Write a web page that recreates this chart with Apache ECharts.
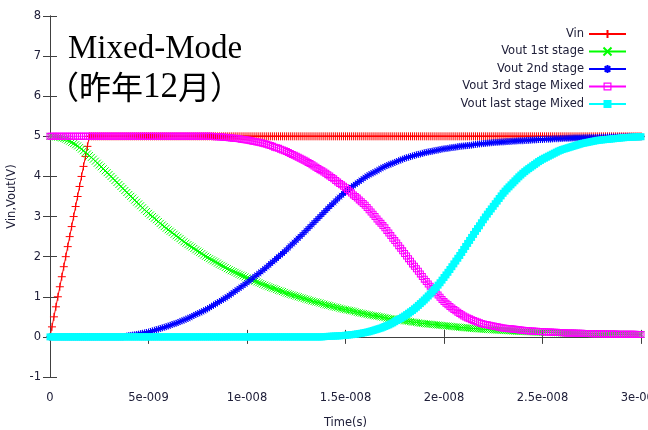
<!DOCTYPE html>
<html>
<head>
<meta charset="utf-8">
<script src="https://cdn.jsdelivr.net/npm/echarts@6/dist/echarts.min.js"></script>
<style>
  html, body { margin: 0; padding: 0; background: #fff; }
  #chart { width: 648px; height: 430px; }
</style>
</head>
<body>
<div id="chart"></div>
<script>
// Transient response of a four-stage chain, sampled every 0.1 ns (voltages in V)
const STEP_NS = 0.1;
const xTickLabels = ['0', '5e-009', '1e-008', '1.5e-008', '2e-008', '2.5e-008', '3e-008'];
const yTickLabels = ['-1', '0', '1', '2', '3', '4', '5', '6', '7', '8'];
const seriesNames = ['Vin', 'Vout 1st stage', 'Vout 2nd stage', 'Vout 3rd stage Mixed', 'Vout last stage Mixed'];

const vin = [
  0, 0.25, 0.5, 0.75, 1, 1.25, 1.5, 1.75, 2, 2.25,
  2.5, 2.75, 3, 3.25, 3.5, 3.75, 4, 4.25, 4.5, 4.75,
  5, 5, 5, 5, 5, 5, 5, 5, 5, 5, 5, 5, 5, 5, 5, 5, 5, 5, 5, 5,
  5, 5, 5, 5, 5, 5, 5, 5, 5, 5, 5, 5, 5, 5, 5, 5, 5, 5, 5, 5,
  5, 5, 5, 5, 5, 5, 5, 5, 5, 5, 5, 5, 5, 5, 5, 5, 5, 5, 5, 5,
  5, 5, 5, 5, 5, 5, 5, 5, 5, 5, 5, 5, 5, 5, 5, 5, 5, 5, 5, 5,
  5, 5, 5, 5, 5, 5, 5, 5, 5, 5, 5, 5, 5, 5, 5, 5, 5, 5, 5, 5,
  5, 5, 5, 5, 5, 5, 5, 5, 5, 5, 5, 5, 5, 5, 5, 5, 5, 5, 5, 5,
  5, 5, 5, 5, 5, 5, 5, 5, 5, 5, 5, 5, 5, 5, 5, 5, 5, 5, 5, 5,
  5, 5, 5, 5, 5, 5, 5, 5, 5, 5, 5, 5, 5, 5, 5, 5, 5, 5, 5, 5,
  5, 5, 5, 5, 5, 5, 5, 5, 5, 5, 5, 5, 5, 5, 5, 5, 5, 5, 5, 5,
  5, 5, 5, 5, 5, 5, 5, 5, 5, 5, 5, 5, 5, 5, 5, 5, 5, 5, 5, 5,
  5, 5, 5, 5, 5, 5, 5, 5, 5, 5, 5, 5, 5, 5, 5, 5, 5, 5, 5, 5,
  5, 5, 5, 5, 5, 5, 5, 5, 5, 5, 5, 5, 5, 5, 5, 5, 5, 5, 5, 5,
  5, 5, 5, 5, 5, 5, 5, 5, 5, 5, 5, 5, 5, 5, 5, 5, 5, 5, 5, 5,
  5, 5, 5, 5, 5, 5, 5, 5, 5, 5, 5, 5, 5, 5, 5, 5, 5, 5, 5, 5,
  5
];

const vout1 = [
  5.00, 5.00, 4.99, 4.985, 4.98, 4.97, 4.96, 4.945, 4.93, 4.905,
  4.88, 4.85, 4.82, 4.79, 4.76, 4.72, 4.68, 4.64, 4.60, 4.56,
  4.52, 4.475, 4.43, 4.38, 4.33, 4.285, 4.24, 4.19, 4.14, 4.095,
  4.05, 4.00, 3.95, 3.90, 3.85, 3.80, 3.75, 3.70, 3.65, 3.60,
  3.55, 3.505, 3.46, 3.41, 3.36, 3.315, 3.27, 3.22, 3.17, 3.125,
  3.08, 3.04, 3.00, 2.96, 2.92, 2.875, 2.83, 2.79, 2.75, 2.71,
  2.67, 2.635, 2.60, 2.56, 2.52, 2.485, 2.45, 2.41, 2.37, 2.335,
  2.30, 2.27, 2.24, 2.205, 2.17, 2.14, 2.11, 2.075, 2.04, 2.01,
  1.98, 1.95, 1.92, 1.895, 1.87, 1.84, 1.81, 1.785, 1.76, 1.73,
  1.70, 1.675, 1.65, 1.63, 1.61, 1.585, 1.56, 1.54, 1.52, 1.495,
  1.47, 1.45, 1.43, 1.41, 1.39, 1.37, 1.35, 1.33, 1.31, 1.29,
  1.27, 1.25, 1.23, 1.215, 1.20, 1.18, 1.16, 1.145, 1.13, 1.11,
  1.09, 1.075, 1.06, 1.045, 1.03, 1.015, 1.00, 0.985, 0.97, 0.955,
  0.94, 0.925, 0.91, 0.895, 0.88, 0.87, 0.86, 0.845, 0.83, 0.815,
  0.80, 0.79, 0.78, 0.765, 0.75, 0.74, 0.73, 0.715, 0.70, 0.69,
  0.68, 0.67, 0.66, 0.65, 0.64, 0.625, 0.61, 0.60, 0.59, 0.58,
  0.57, 0.56, 0.55, 0.54, 0.53, 0.525, 0.52, 0.51, 0.50, 0.49,
  0.48, 0.47, 0.46, 0.455, 0.45, 0.44, 0.43, 0.425, 0.42, 0.41,
  0.40, 0.395, 0.39, 0.38, 0.37, 0.365, 0.36, 0.35, 0.34, 0.335,
  0.33, 0.325, 0.32, 0.315, 0.31, 0.305, 0.30, 0.295, 0.29, 0.285,
  0.28, 0.275, 0.27, 0.265, 0.26, 0.255, 0.25, 0.245, 0.24, 0.235,
  0.23, 0.226, 0.222, 0.218, 0.214, 0.21, 0.206, 0.202, 0.198, 0.194,
  0.19, 0.187, 0.184, 0.181, 0.178, 0.175, 0.172, 0.169, 0.166, 0.163,
  0.16, 0.157, 0.155, 0.152, 0.15, 0.147, 0.145, 0.142, 0.14, 0.137,
  0.135, 0.133, 0.13, 0.128, 0.126, 0.124, 0.122, 0.12, 0.118, 0.117,
  0.115, 0.114, 0.112, 0.111, 0.109, 0.108, 0.106, 0.105, 0.103, 0.102,
  0.10, 0.099, 0.097, 0.096, 0.094, 0.093, 0.091, 0.09, 0.088, 0.087,
  0.085, 0.084, 0.083, 0.082, 0.081, 0.08, 0.079, 0.078, 0.077, 0.076,
  0.075, 0.074, 0.073, 0.072, 0.071, 0.07, 0.069, 0.068, 0.067, 0.066,
  0.065, 0.065, 0.064, 0.064, 0.063, 0.063, 0.062, 0.062, 0.061, 0.061,
  0.06
];

const vout2 = [
  0, 0, 0, 0, 0, 0, 0, 0, 0, 0,
  0, 0, 0, 0, 0, 0, 0, 0, 0, 0,
  0, 0, 0, 0, 0, 0, 0, 0, 0, 0,
  0, 0, 0, 0, 0, 0, 0, 0, 0.01, 0.02,
  0.03, 0.037, 0.045, 0.052, 0.06, 0.07, 0.08, 0.09, 0.10, 0.11,
  0.12, 0.135, 0.15, 0.165, 0.18, 0.195, 0.21, 0.225, 0.24, 0.255,
  0.27, 0.29, 0.31, 0.325, 0.34, 0.36, 0.38, 0.40, 0.42, 0.44,
  0.46, 0.485, 0.51, 0.535, 0.56, 0.58, 0.60, 0.625, 0.65, 0.675,
  0.70, 0.73, 0.76, 0.79, 0.82, 0.85, 0.88, 0.91, 0.94, 0.97,
  1.00, 1.035, 1.07, 1.105, 1.14, 1.175, 1.21, 1.245, 1.28, 1.315,
  1.35, 1.39, 1.43, 1.47, 1.51, 1.545, 1.58, 1.62, 1.66, 1.70,
  1.74, 1.785, 1.83, 1.87, 1.91, 1.955, 2.00, 2.04, 2.08, 2.125,
  2.17, 2.22, 2.27, 2.315, 2.36, 2.41, 2.46, 2.505, 2.55, 2.60,
  2.65, 2.70, 2.75, 2.80, 2.85, 2.90, 2.95, 3.00, 3.05, 3.10,
  3.15, 3.20, 3.25, 3.295, 3.34, 3.39, 3.44, 3.485, 3.53, 3.575,
  3.62, 3.66, 3.70, 3.735, 3.77, 3.805, 3.84, 3.875, 3.91, 3.945,
  3.98, 4.01, 4.04, 4.065, 4.09, 4.115, 4.14, 4.17, 4.20, 4.225,
  4.25, 4.27, 4.29, 4.31, 4.33, 4.35, 4.37, 4.39, 4.41, 4.43,
  4.45, 4.465, 4.48, 4.495, 4.51, 4.525, 4.54, 4.55, 4.56, 4.575,
  4.59, 4.60, 4.61, 4.62, 4.63, 4.64, 4.65, 4.66, 4.67, 4.68,
  4.69, 4.695, 4.70, 4.71, 4.72, 4.725, 4.73, 4.74, 4.75, 4.755,
  4.76, 4.765, 4.77, 4.775, 4.78, 4.79, 4.80, 4.805, 4.81, 4.815,
  4.82, 4.825, 4.83, 4.835, 4.84, 4.845, 4.85, 4.85, 4.855, 4.86,
  4.86, 4.865, 4.87, 4.87, 4.875, 4.88, 4.88, 4.885, 4.89, 4.89,
  4.89, 4.895, 4.90, 4.90, 4.905, 4.91, 4.91, 4.915, 4.92, 4.92,
  4.92, 4.925, 4.93, 4.93, 4.93, 4.935, 4.94, 4.94, 4.94, 4.945,
  4.945, 4.95, 4.95, 4.95, 4.955, 4.955, 4.96, 4.96, 4.96, 4.96,
  4.96, 4.965, 4.965, 4.965, 4.97, 4.97, 4.97, 4.97, 4.97, 4.975,
  4.975, 4.975, 4.975, 4.98, 4.98, 4.98, 4.98, 4.98, 4.98, 4.985,
  4.985, 4.985, 4.985, 4.985, 4.99, 4.99, 4.99, 4.99, 4.99, 4.99,
  4.99
];

const vout3 = [
  5, 5, 5, 5, 5, 5, 5, 5, 5, 5, 5, 5, 5, 5, 5, 5, 5, 5, 5, 5,
  5, 5, 5, 5, 5, 5, 5, 5, 5, 5, 5, 5, 5, 5, 5, 5, 5, 5, 5, 5,
  5, 5, 5, 5, 5, 5, 5, 5, 5, 5, 5, 5, 5, 5, 5, 5, 5, 5, 5, 5,
  5, 5, 5, 5, 5, 5, 5, 5, 5, 5, 5, 5, 5, 5, 5, 5, 5, 5, 5, 5,
  5, 5, 5, 4.995, 4.99, 4.99, 4.99, 4.985, 4.98, 4.975,
  4.97, 4.965, 4.96, 4.955, 4.95, 4.945, 4.94, 4.93, 4.92, 4.915,
  4.91, 4.90, 4.89, 4.88, 4.87, 4.86, 4.85, 4.84, 4.83, 4.815,
  4.80, 4.785, 4.77, 4.75, 4.73, 4.715, 4.70, 4.68, 4.66, 4.64,
  4.62, 4.595, 4.57, 4.55, 4.53, 4.505, 4.48, 4.455, 4.43, 4.405,
  4.38, 4.35, 4.32, 4.29, 4.26, 4.23, 4.20, 4.17, 4.14, 4.11,
  4.08, 4.045, 4.01, 3.975, 3.94, 3.90, 3.86, 3.825, 3.79, 3.755,
  3.72, 3.675, 3.63, 3.585, 3.54, 3.50, 3.46, 3.415, 3.37, 3.325,
  3.28, 3.225, 3.17, 3.115, 3.06, 3.00, 2.94, 2.885, 2.83, 2.775,
  2.72, 2.655, 2.59, 2.525, 2.46, 2.40, 2.34, 2.275, 2.21, 2.145,
  2.08, 2.015, 1.95, 1.885, 1.82, 1.76, 1.70, 1.635, 1.57, 1.505,
  1.44, 1.38, 1.32, 1.265, 1.21, 1.155, 1.10, 1.045, 0.99, 0.935,
  0.88, 0.84, 0.80, 0.76, 0.72, 0.685, 0.65, 0.615, 0.58, 0.55,
  0.52, 0.495, 0.47, 0.45, 0.43, 0.41, 0.39, 0.37, 0.35, 0.335,
  0.32, 0.31, 0.30, 0.29, 0.28, 0.27, 0.26, 0.25, 0.24, 0.23,
  0.22, 0.215, 0.21, 0.205, 0.20, 0.195, 0.19, 0.182, 0.175, 0.17,
  0.165, 0.16, 0.155, 0.152, 0.148, 0.145, 0.141, 0.138, 0.134, 0.132,
  0.13, 0.128, 0.125, 0.123, 0.12, 0.118, 0.115, 0.113, 0.11, 0.108,
  0.105, 0.103, 0.10, 0.099, 0.097, 0.096, 0.094, 0.093, 0.091, 0.09,
  0.088, 0.087, 0.085, 0.084, 0.082, 0.081, 0.08, 0.079, 0.078, 0.077,
  0.076, 0.075, 0.074, 0.073, 0.072, 0.071, 0.07, 0.069, 0.068, 0.067,
  0.066, 0.066, 0.065, 0.065, 0.064, 0.064, 0.063, 0.063, 0.062, 0.061,
  0.06
];

const vout4 = [
  0, 0, 0, 0, 0, 0, 0, 0, 0, 0, 0, 0, 0, 0, 0, 0, 0, 0, 0, 0,
  0, 0, 0, 0, 0, 0, 0, 0, 0, 0, 0, 0, 0, 0, 0, 0, 0, 0, 0, 0,
  0, 0, 0, 0, 0, 0, 0, 0, 0, 0, 0, 0, 0, 0, 0, 0, 0, 0, 0, 0,
  0, 0, 0, 0, 0, 0, 0, 0, 0, 0, 0, 0, 0, 0, 0, 0, 0, 0, 0, 0,
  0, 0, 0, 0, 0, 0, 0, 0, 0, 0, 0, 0, 0, 0, 0, 0, 0, 0, 0, 0,
  0, 0, 0, 0, 0, 0, 0, 0, 0, 0, 0, 0, 0, 0, 0, 0, 0, 0, 0, 0,
  0, 0, 0, 0, 0, 0, 0, 0, 0, 0,
  0, 0, 0, 0, 0, 0, 0, 0, 0, 0.005,
  0.01, 0.012, 0.015, 0.017, 0.02, 0.022, 0.025, 0.027, 0.03, 0.035,
  0.04, 0.045, 0.05, 0.055, 0.06, 0.067, 0.075, 0.082, 0.09, 0.10,
  0.11, 0.12, 0.13, 0.145, 0.16, 0.175, 0.19, 0.205, 0.22, 0.24,
  0.26, 0.28, 0.30, 0.325, 0.35, 0.38, 0.41, 0.435, 0.46, 0.49,
  0.52, 0.555, 0.59, 0.625, 0.66, 0.70, 0.74, 0.785, 0.83, 0.875,
  0.92, 0.97, 1.02, 1.07, 1.12, 1.175, 1.23, 1.29, 1.35, 1.415,
  1.48, 1.545, 1.61, 1.68, 1.75, 1.82, 1.89, 1.96, 2.03, 2.105,
  2.18, 2.255, 2.33, 2.405, 2.48, 2.555, 2.63, 2.70, 2.77, 2.845,
  2.92, 2.99, 3.06, 3.125, 3.19, 3.255, 3.32, 3.385, 3.45, 3.515,
  3.58, 3.635, 3.69, 3.74, 3.79, 3.84, 3.89, 3.94, 3.99, 4.035,
  4.08, 4.12, 4.16, 4.195, 4.23, 4.265, 4.30, 4.335, 4.37, 4.40,
  4.43, 4.455, 4.48, 4.505, 4.53, 4.555, 4.58, 4.605, 4.63, 4.65,
  4.67, 4.685, 4.70, 4.715, 4.73, 4.745, 4.76, 4.775, 4.79, 4.805,
  4.82, 4.83, 4.84, 4.85, 4.86, 4.87, 4.88, 4.89, 4.90, 4.905,
  4.91, 4.915, 4.92, 4.925, 4.93, 4.935, 4.94, 4.945, 4.95, 4.955,
  4.96, 4.965, 4.97, 4.97, 4.975, 4.98, 4.98, 4.985, 4.985, 4.99,
  4.99
];

// Sample instants in ns
const timeNs = vin.map((_, i) => Math.round(i * STEP_NS * 10) / 10);

const colors = ['#ff0000', '#00ff00', '#0000ff', '#ff00ff', '#00ffff'];
const SYM_PLUS = 'path://M0,5L10,5M5,0L5,10';
const SYM_CROSS = 'path://M0,0L10,10M10,0L0,10';
const SYM_STAR = 'path://M0,5L10,5M5,0L5,10M1.5,1.5L8.5,8.5M8.5,1.5L1.5,8.5';
const SYM_BOX = 'path://M0,0L10,0L10,10L0,10Z M1.5,1.5L1.5,8.5L8.5,8.5L8.5,1.5Z';
const SYM_FILLED = 'rect';

const TEXT_COLOR = '#20203a';
const LABEL_FONT = 'DejaVu Sans';

function trace(idx, symbol, size, stroke, values) {
  const c = colors[idx];
  return {
    name: seriesNames[idx],
    type: 'line',
    data: timeNs.map((t, i) => [t, values[i]]),
    symbol: symbol,
    symbolSize: size,
    showSymbol: true,
    symbolKeepAspect: true,
    clip: false,
    silent: true,
    lineStyle: { color: c, width: 1 },
    itemStyle: { color: c, borderColor: c, borderWidth: stroke ? 1 : 0 },
    emphasis: { disabled: true },
    animation: false
  };
}

const tickStyle = { inside: true, length: 7, lineStyle: { color: '#404040', width: 1 } };
const axisLineStyle = { show: true, lineStyle: { color: '#404040', width: 1 } };

const chart = echarts.init(document.getElementById('chart'), null, { renderer: 'canvas' });
chart.setOption({
  backgroundColor: '#ffffff',
  animation: false,
  grid: { left: 50, right: 7, top: 16, bottom: 53, containLabel: false, outerBoundsMode: 'none' },
  xAxis: [
    {
      type: 'value', min: 0, max: 30, interval: 5,
      name: 'Time(s)', nameLocation: 'middle', nameGap: 40,
      nameTextStyle: { fontFamily: LABEL_FONT, fontSize: 11.5, color: TEXT_COLOR },
      axisLine: axisLineStyle, axisTick: tickStyle,
      axisLabel: {
        margin: 15, fontFamily: LABEL_FONT, fontSize: 11.5, color: TEXT_COLOR,
        formatter: v => xTickLabels[Math.round(v / 5)]
      },
      splitLine: { show: false }
    },
    {
      type: 'value', min: 0, max: 30, interval: 5, position: 'top',
      axisLine: axisLineStyle, axisTick: tickStyle,
      axisLabel: { show: false }, splitLine: { show: false }
    }
  ],
  yAxis: [
    {
      type: 'value', min: -1, max: 8, interval: 1,
      name: 'Vin,Vout(V)', nameLocation: 'middle', nameGap: 32, nameRotate: 90,
      nameTextStyle: { fontFamily: LABEL_FONT, fontSize: 11.5, color: TEXT_COLOR },
      axisLine: axisLineStyle, axisTick: tickStyle,
      axisLabel: {
        margin: 9, fontFamily: LABEL_FONT, fontSize: 11.5, color: TEXT_COLOR,
        formatter: v => yTickLabels[Math.round(v) + 1]
      },
      splitLine: { show: false }
    },
    {
      type: 'value', min: -1, max: 8, interval: 1, position: 'right',
      axisLine: axisLineStyle, axisTick: tickStyle,
      axisLabel: { show: false }, splitLine: { show: false }
    }
  ],
  legend: {
    orient: 'vertical', right: 16, top: 23, align: 'right',
    itemWidth: 37, itemHeight: 10, itemGap: 5.5,
    selectedMode: false,
    textStyle: { fontFamily: LABEL_FONT, fontSize: 11.5, color: TEXT_COLOR },
    data: seriesNames
  },
  graphic: [
    {
      type: 'text', left: 68, top: 33, silent: true,
      style: { text: 'Mixed-Mode', font: '33px "Liberation Serif", "Noto Sans CJK JP"', fill: '#000' }
    },
    {
      type: 'text', left: 47, top: 70, silent: true,
      style: {
        text: '{c|（昨年}{d|12}{c|月）}',
        fill: '#000',
        rich: {
          c: { fontFamily: 'Noto Sans CJK JP', fontSize: 32, fill: '#000' },
          d: { fontFamily: 'Liberation Serif', fontSize: 35, fill: '#000', padding: [2, 0, 0, 0] }
        }
      }
    }
  ],
  series: [
    trace(0, SYM_PLUS, 8, true, vin),
    trace(1, SYM_CROSS, 7, true, vout1),
    trace(2, SYM_STAR, 7, true, vout2),
    trace(3, SYM_BOX, 7, false, vout3),
    trace(4, SYM_FILLED, 7, false, vout4)
  ]
});
</script>
</body>
</html>
